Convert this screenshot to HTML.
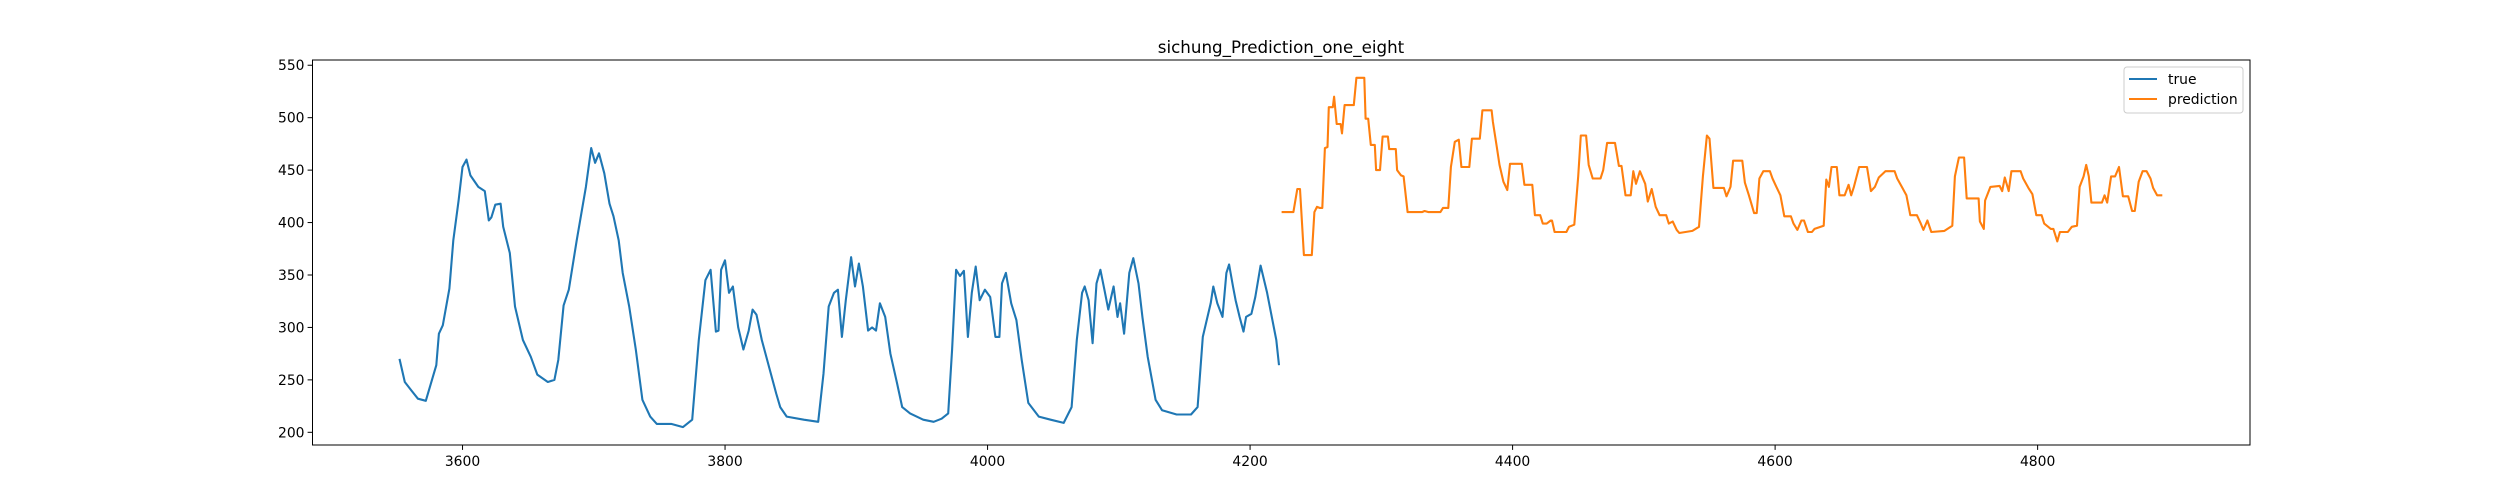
<!DOCTYPE html>
<html><head><meta charset="utf-8"><style>
html,body{margin:0;padding:0;background:#fff;}
svg{display:block;font-family:"DejaVu Sans","Liberation Sans",sans-serif;}
</style></head><body>
<svg id="chart" width="2500" height="500" viewBox="0 0 2500 500" xmlns="http://www.w3.org/2000/svg">
<rect x="0" y="0" width="2500" height="500" fill="#fff"/>
<text x="1281" y="53" text-anchor="middle" font-size="16.7" fill="#000">sichung_Prediction_one_eight</text>
<g id="plot"></g>
<g id="axes"></g>
<g>
<rect x="2124" y="67" width="119" height="46" rx="3" fill="#fff" fill-opacity="0.8" stroke="#ccc" stroke-width="1"/>
<line x1="2129" y1="79" x2="2157" y2="79" stroke="#1f77b4" stroke-width="2.1"/>
<text x="2168" y="84" font-size="13.9">true</text>
<line x1="2129" y1="99" x2="2157" y2="99" stroke="#ff7f0e" stroke-width="2.1"/>
<text x="2168" y="104" font-size="13.9">prediction</text>
</g>
</svg>
<script>
const trueX=[3552,3556,3561,3566,3572,3580,3582,3585,3590,3593,3597,3600,3603,3606,3612,3617,3620,3622,3625,3629,3631,3636,3640,3646,3652,3657,3665,3670,3673,3677,3681,3687,3694,3698,3701,3704,3708,3712,3715,3719,3722,3727,3732,3737,3743,3748,3759,3768,3775,3780,3785,3789,3793,3795,3797,3800,3803,3806,3810,3814,3818,3821,3824,3828,3834,3839,3842,3847,3860,3871,3875,3879,3883,3886,3889,3892,3896,3899,3902,3905,3909,3912,3915,3918,3922,3926,3931,3935,3941,3951,3959,3965,3970,3973,3976,3979,3982,3985,3988,3991,3994,3998,4002,4006,4009,4011,4014,4018,4022,4026,4031,4039,4048,4058,4064,4068,4072,4074,4077,4080,4083,4086,4089,4092,4096,4099,4101,4104,4108,4111,4115,4118,4122,4128,4133,4144,4155,4160,4164,4170,4172,4175,4179,4182,4184,4187,4189,4192,4195,4197,4201,4204,4208,4213,4217,4220,4222];
const trueY=[270,248,240,232,230,264,294,302,337,383,421,453,460,445,434,430,402,405,417,418,396,371,320,288,272,255,248,250,269,321,336,383,434,471,457,466,447,418,406,383,352,320,279,231,215,208,208,205,212,288,345,355,296,297,355,364,333,339,300,279,297,317,312,288,260,237,224,215,212,210,256,320,333,336,291,326,367,339,361,339,297,300,297,323,310,275,247,224,218,212,210,213,218,279,355,349,354,291,333,358,326,336,329,291,291,342,352,323,307,269,228,215,212,209,224,288,333,339,326,285,342,355,336,317,339,310,323,294,352,366,342,310,272,231,221,217,217,224,291,323,339,323,310,352,360,339,326,310,296,310,313,329,359,333,307,288,264];
const predX=[4224,4233,4236,4238,4241,4247,4249,4251,4253,4255,4257,4259,4260,4263,4264,4266,4269,4270,4272,4279,4281,4287,4288,4290,4292,4295,4296,4299,4301,4305,4306,4311,4312,4315,4317,4320,4325,4331,4333,4336,4345,4347,4351,4353,4356,4359,4361,4367,4369,4375,4377,4384,4385,4388,4390,4393,4396,4398,4407,4409,4415,4417,4421,4423,4426,4429,4430,4432,4441,4443,4447,4450,4452,4456,4458,4461,4467,4469,4472,4478,4481,4483,4486,4490,4492,4494,4497,4501,4503,4506,4509,4512,4517,4519,4522,4525,4527,4537,4542,4545,4548,4550,4553,4561,4563,4566,4568,4575,4577,4580,4584,4586,4588,4591,4596,4598,4601,4604,4607,4612,4614,4617,4620,4622,4625,4628,4630,4637,4639,4641,4643,4647,4649,4653,4656,4658,4660,4664,4670,4673,4676,4679,4684,4691,4693,4697,4700,4703,4708,4711,4713,4716,4719,4729,4735,4737,4740,4744,4746,4755,4756,4759,4760,4764,4771,4773,4775,4778,4780,4787,4789,4793,4796,4799,4803,4805,4810,4812,4815,4817,4823,4826,4830,4832,4835,4837,4839,4841,4849,4851,4853,4856,4859,4862,4865,4869,4872,4874,4877,4880,4883,4886,4888,4891,4895];
const predY=[410,410,432,432,369,369,410,415,414,414,471,472,510,510,520,494,494,485,512,512,538,538,499,499,474,474,450,450,482,482,470,470,450,445,444,410,410,410,411,410,410,414,414,453,477,479,453,453,480,480,507,507,496,472,455,439,431,456,456,436,436,407,407,399,399,402,402,391,391,396,398,444,483,483,455,442,442,450,476,476,454,454,426,426,449,437,449,437,420,432,415,407,407,399,401,393,390,392,396,444,483,480,433,433,425,434,459,459,438,426,409,409,442,449,449,442,434,426,406,406,399,393,402,402,391,391,394,397,441,434,453,453,426,426,436,426,434,453,453,430,434,443,449,449,442,433,426,407,407,399,393,402,391,392,397,444,462,462,423,423,401,394,421,434,435,430,443,430,449,449,442,433,427,407,407,399,394,394,382,391,391,396,397,434,444,455,444,419,419,426,419,444,444,453,425,425,411,411,439,449,449,442,433,426,426];
const xTicks=[3600,3800,4000,4200,4400,4600,4800];
const yTicks=[200,250,300,350,400,450,500,550];
const L=312.5,R=2250,T=60,B=445;
const xMin=3485.7,xMax=4961.8,yMin=187.9,yMax=555;
const sx=v=>L+(v-xMin)/(xMax-xMin)*(R-L);
const sy=v=>B-(v-yMin)/(yMax-yMin)*(B-T);
const NS="http://www.w3.org/2000/svg";
const plot=document.getElementById('plot'),axes=document.getElementById('axes');
function mk(tag,attrs,parent){const e=document.createElementNS(NS,tag);for(const k in attrs)e.setAttribute(k,attrs[k]);parent.appendChild(e);return e;}
function series(xs,ys,color,name){
  const pts=xs.map((x,i)=>sx(x).toFixed(1)+','+sy(ys[i]).toFixed(1)).join(' ');
  const p=mk('polyline',{points:pts,fill:'none',stroke:color,'stroke-width':2.1,'stroke-linejoin':'round'},plot);
  
  
}
series(trueX,trueY,'#1f77b4','true-line');
series(predX,predY,'#ff7f0e','prediction-line');
const frame=mk('rect',{x:L,y:T,width:R-L,height:B-T,fill:'none',stroke:'#000','stroke-width':1},axes);


xTicks.forEach(v=>{
  const x=sx(v);
  const t=mk('line',{x1:x,y1:B,x2:x,y2:B+4.9,stroke:'#000','stroke-width':1},axes);
  
  
  const l=mk('text',{x:x,y:B+21,'text-anchor':'middle','font-size':13.9},axes);
  l.textContent=v;
  
  
});
yTicks.forEach(v=>{
  const y=sy(v);
  const t=mk('line',{x1:L-4.9,y1:y,x2:L,y2:y,stroke:'#000','stroke-width':1},axes);
  
  
  const l=mk('text',{x:L-8,y:y+5,'text-anchor':'end','font-size':13.9},axes);
  l.textContent=v;
  
  
});
</script>
</body></html>
